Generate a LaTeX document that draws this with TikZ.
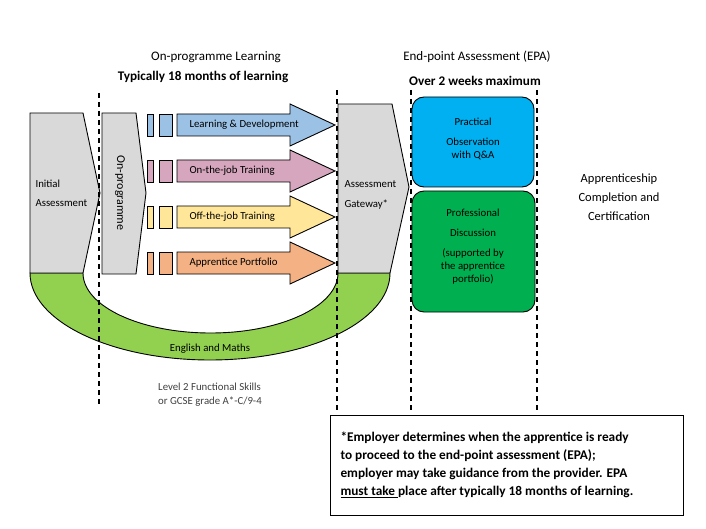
\documentclass[tikz,border=0pt]{standalone}
\usepackage{fontspec}
\setmainfont{Carlito}
\begin{document}
\begin{tikzpicture}[x=1pt,y=-1pt,
  sh/.style={draw=black,line width=0.9pt},
  dl/.style={dashed,line width=1.1pt,dash pattern=on 5pt off 4pt},
  t/.style={font=\fontsize{10.8}{13}\selectfont},
  tb/.style={font=\fontsize{13.2}{15}\selectfont\bfseries}]
\useasboundingbox (0,0) rectangle (706,529);
% green arc
\path[sh,fill={rgb,255:red,146;green,208;blue,80}] (30,273) arc[start angle=180,end angle=360,x radius=180,y radius=-87] -- (338,273) arc[start angle=0,end angle=-180,x radius=127.5,y radius=-60] -- cycle;
\node[t] (em) at (210,349) {English and Maths};
% pentagons
\path[sh,fill={rgb,255:red,217;green,217;blue,217}] (30,113) -- (83,113) -- (100,193) -- (83,273) -- (30,273) -- cycle;
\node[t,align=left,anchor=west] (ia) at (32,193) {Initial\\[6pt]Assessment};
\path[sh,fill={rgb,255:red,217;green,217;blue,217}] (102,113) -- (136,113) -- (146,193) -- (136,274) -- (102,274) -- cycle;
\node[t,rotate=-90,font=\fontsize{12}{14}\selectfont] (op) at (120,193) {On-programme};
\path[sh,fill={rgb,255:red,217;green,217;blue,217}] (338,104) -- (392,104) -- (409,187) -- (390,273) -- (338,273) -- cycle;
\node[t,align=left,anchor=west] (ag) at (341,195) {Assessment\\[7pt]Gateway*};
% arrows
\foreach \y/\c/\l/\n in {125/{155,194,229}/Learning \& Development/a1,171/{213,166,189}/On-the-job Training/a2,217/{255,230,153}/Off-the-job Training/a3,263/{244,177,131}/Apprentice Portfolio/a4}{
  \definecolor{cc}{RGB}{\c}
  \path[sh,fill=cc] (147,\y-11) rectangle (153,\y+11);
  \path[sh,fill=cc] (159,\y-11) rectangle (172,\y+11);
  \path[sh,fill=cc] (177,\y-11) -- (290,\y-11) -- (290,\y-21) -- (335,\y) -- (290,\y+21) -- (290,\y+11) -- (177,\y+11) -- cycle;
  \node[t,anchor=west] (\n) at (186,\y) {\l};
}
% EPA boxes
\node[sh,fill={rgb,255:red,0;green,176;blue,240},rounded corners=12pt,minimum width=122pt,minimum height=90pt] (po) at (473,142) {};
\node[t,align=center,anchor=north] (pot) at (473,114) {Practical\\[7pt]Observation\\with Q\&A};
\node[sh,fill={rgb,255:red,0;green,176;blue,80},rounded corners=12pt,minimum width=123pt,minimum height=121pt] (pd) at (473.5,251.5) {};
\node[t,align=center,anchor=north] (pdt) at (473,205) {Professional\\[7pt]Discussion\\[7pt](supported by\\the apprentice\\portfolio)};
% dashed lines
\draw[dl] (99,93) -- (99,405);
\draw[dl] (337,90) -- (337,410);
\draw[dl] (411,90) -- (411,410);
\draw[dl] (537,90) -- (537,410);
% texts
\node[font=\fontsize{13}{15}\selectfont] (h1) at (216,57) {On-programme Learning};
\node[tb] (h2) at (203,77) {Typically 18 months of learning};
\node[font=\fontsize{13}{15}\selectfont] (h3) at (477,57) {End-point Assessment (EPA)};
\node[tb] (h4) at (475,81) {Over 2 weeks maximum};
\node[font=\fontsize{12.5}{15}\selectfont,align=center] (ac) at (619,197) {Apprenticeship\\[4pt]Completion and\\[4pt]Certification};
\node[t,align=left,text=black!75] (lv) at (210,395) {Level 2 Functional Skills\\[1pt]or GCSE grade A*-C/9-4};
\node[draw=black,line width=0.6pt,minimum width=353pt,minimum height=100pt] (nb) at (506.5,465) {};
\node[font=\fontsize{13.3}{18}\selectfont\bfseries,align=left,anchor=west] (nt) at (337,465) {*Employer determines when the apprentice is ready\\to proceed to the end-point assessment (EPA);\\employer may take guidance from the provider. EPA\\\underline{must take }place after typically 18 months of learning.};
\end{tikzpicture}
\end{document}
